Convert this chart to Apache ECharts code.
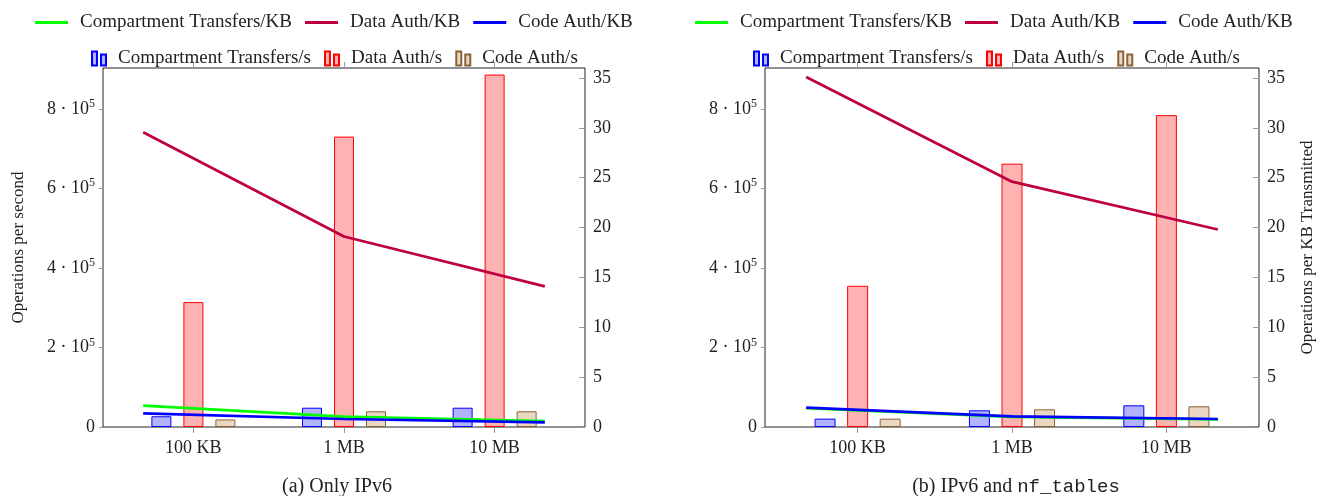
<!DOCTYPE html>
<html>
<head>
<meta charset="utf-8">
<script src="https://cdn.jsdelivr.net/npm/echarts@6/dist/echarts.min.js"></script>
<style>
  html, body { margin: 0; padding: 0; background: #fff; }
  #chart { width: 1333px; height: 496px; }
</style>
</head>
<body>
<div id="chart"></div>
<script>
const categories = ['100 KB', '1 MB', '10 MB'];

// (a) Only IPv6
const compPerSecA = [27000, 48500, 48500];
const dataPerSecA = [314000, 730000, 886000];
const codePerSecA = [19000, 39500, 39500];
const compPerKbA = [2.14, 1.04, 0.6];
const dataPerKbA = [29.55, 19.1, 14.1];
const codePerKbA = [1.37, 0.8, 0.47];

// (b) IPv6 and nf_tables
const compPerSecB = [21000, 42000, 54500];
const dataPerSecB = [355000, 662000, 784000];
const codePerSecB = [21000, 44500, 52000];
const compPerKbB = [1.88, 1.02, 0.76];
const dataPerKbB = [35.1, 24.6, 19.8];
const codePerKbB = [1.94, 1.07, 0.8];

const leftTicks = [0, 200000, 400000, 600000, 800000];
const rightTicks = [0, 5, 10, 15, 20, 25, 30, 35];

const serif = '"Liberation Serif", "DejaVu Serif", serif';
const mono = '"Liberation Mono", "DejaVu Sans Mono", monospace';
const ink = '#222';

const barColors = {
  comp: { fill: 'rgba(0,0,255,0.3)', border: '#0000ff' },
  data: { fill: 'rgba(255,0,0,0.3)', border: '#ff0000' },
  code: { fill: '#ead7c3', border: '#8b6238' }
};
const lineColors = { comp: '#00ff00', data: '#bf0040', code: '#0000ff' };

const barIcon = 'path://M0,0h5v14h-5z M9,3h5v11h-5z';

function pairs(values) {
  return values.map((v, i) => [i, v]);
}

function buildPanel(gridIndex, set, opts) {
  const xBar = gridIndex * 3;
  const yL = gridIndex * 2;

  const grid = {
    left: opts.left, right: opts.right, top: 68, bottom: 69,
    show: true, borderColor: '#222', borderWidth: 1, backgroundColor: 'transparent'
  };

  const tickStyle = { color: '#999' };
  const xAxes = [
    {
      gridIndex, type: 'value', min: -0.6, max: 2.6, position: 'bottom',
      axisLine: { show: false, onZero: false }, splitLine: { show: false },
      axisTick: { show: true, customValues: [0, 1, 2], length: 6, lineStyle: tickStyle },
      axisLabel: {
        customValues: [0, 1, 2], margin: 12,
        formatter: v => categories[Math.round(v)] || '',
        fontFamily: serif, fontSize: 18, color: ink
      }
    },
    {
      gridIndex, type: 'value', min: -0.6, max: 2.6, position: 'top',
      axisLine: { show: false, onZero: false }, splitLine: { show: false },
      axisTick: { show: true, customValues: [0, 1, 2], length: 6, lineStyle: tickStyle },
      axisLabel: { show: false }
    },
    {
      gridIndex, type: 'value', min: -0.2, max: 2.2, show: false,
      axisLine: { onZero: false }
    }
  ];

  const yAxes = [
    {
      gridIndex, type: 'value', min: 0, max: 902500, position: 'left',
      name: opts.leftName || '', nameLocation: 'middle', nameGap: 76, nameRotate: 90,
      nameTextStyle: { fontFamily: serif, fontSize: 17, color: ink },
      axisLine: { show: false, onZero: false }, splitLine: { show: false },
      axisTick: { show: true, customValues: leftTicks, length: 4, lineStyle: tickStyle },
      axisLabel: {
        customValues: leftTicks, margin: 8,
        formatter: v => v === 0 ? '{n|0}' : '{n|' + (v / 100000) + ' · 10}{s|5}',
        rich: {
          n: { fontFamily: serif, fontSize: 18, color: ink },
          s: { fontFamily: serif, fontSize: 12, color: ink, padding: [0, 0, 10, 0] }
        }
      }
    },
    {
      gridIndex, type: 'value', min: 0, max: 36, position: 'right',
      name: opts.rightName || '', nameLocation: 'middle', nameGap: 40, nameRotate: 90,
      nameTextStyle: { fontFamily: serif, fontSize: 17, color: ink },
      axisLine: { show: false, onZero: false }, splitLine: { show: false },
      axisTick: { show: true, inside: true, customValues: rightTicks, length: 6, lineStyle: tickStyle },
      axisLabel: {
        customValues: rightTicks, margin: 8,
        fontFamily: serif, fontSize: 18, color: ink
      }
    }
  ];

  const bar = (name, values, c) => ({
    type: 'bar', name, xAxisIndex: xBar, yAxisIndex: yL,
    data: pairs(values), barWidth: opts.barWidth, barGap: opts.barGap,
    itemStyle: { color: c.fill, borderColor: c.border, borderWidth: 1 },
    emphasis: { disabled: true }
  });
  const line = (name, values, color) => ({
    type: 'line', name, xAxisIndex: xBar + 2, yAxisIndex: yL + 1,
    data: pairs(values), symbol: 'none',
    lineStyle: { color, width: 2.7 }, itemStyle: { color },
    emphasis: { disabled: true }
  });

  const series = [
    bar('Compartment Transfers/s', set.compSec, barColors.comp),
    bar('Data Auth/s', set.dataSec, barColors.data),
    bar('Code Auth/s', set.codeSec, barColors.code),
    line('Compartment Transfers/KB', set.compKb, lineColors.comp),
    line('Data Auth/KB', set.dataKb, lineColors.data),
    line('Code Auth/KB', set.codeKb, lineColors.code)
  ];

  const legendText = { fontFamily: serif, fontSize: 19, color: ink };
  const legends = [
    {
      left: opts.legendLine, top: 8, itemWidth: 33, itemHeight: 3, itemGap: 13,
      textStyle: Object.assign({}, legendText, { padding: [0, 0, 0, 7] }),
      data: ['Compartment Transfers/KB', 'Data Auth/KB', 'Code Auth/KB'].map(n => ({ name: n, icon: 'rect' }))
    },
    {
      left: opts.legendBar, top: 44, itemWidth: 18, itemHeight: 14, itemGap: 13,
      textStyle: Object.assign({}, legendText, { padding: [0, 0, 0, 5] }),
      data: ['Compartment Transfers/s', 'Data Auth/s', 'Code Auth/s'].map(n => ({ name: n, icon: barIcon }))
    }
  ];

  return { grid, xAxes, yAxes, series, legends };
}

const panelA = buildPanel(0, {
  compSec: compPerSecA, dataSec: dataPerSecA, codeSec: codePerSecA,
  compKb: compPerKbA, dataKb: dataPerKbA, codeKb: codePerKbA
}, { left: 103, right: 748, barWidth: 20, barGap: '60%', leftName: 'Operations per second', legendLine: 30, legendBar: 86 });

const panelB = buildPanel(1, {
  compSec: compPerSecB, dataSec: dataPerSecB, codeSec: codePerSecB,
  compKb: compPerKbB, dataKb: dataPerKbB, codeKb: codePerKbB
}, { left: 765, right: 74, barWidth: 21, barGap: '55%', rightName: 'Operations per KB Transmitted', legendLine: 690, legendBar: 748 });

const chart = echarts.init(document.getElementById('chart'), null, { renderer: 'canvas' });
chart.setOption({
  animation: false,
  backgroundColor: '#fff',
  grid: [panelA.grid, panelB.grid],
  xAxis: [...panelA.xAxes, ...panelB.xAxes],
  yAxis: [...panelA.yAxes, ...panelB.yAxes],
  legend: [...panelA.legends, ...panelB.legends],
  series: [...panelA.series, ...panelB.series],
  graphic: [
    {
      type: 'text', x: 337, y: 487,
      style: {
        text: '(a) Only IPv6', font: '20px ' + serif, fill: ink,
        align: 'center', verticalAlign: 'middle'
      }
    },
    {
      type: 'text', x: 1016, y: 487,
      style: {
        text: '{t|(b) IPv6 and }{m|nf_tables}', align: 'center', verticalAlign: 'middle',
        rich: {
          t: { fontFamily: serif, fontSize: 20, fill: ink, color: ink },
          m: { fontFamily: mono, fontSize: 19, fill: ink, color: ink }
        }
      }
    }
  ]
});
</script>
</body>
</html>
